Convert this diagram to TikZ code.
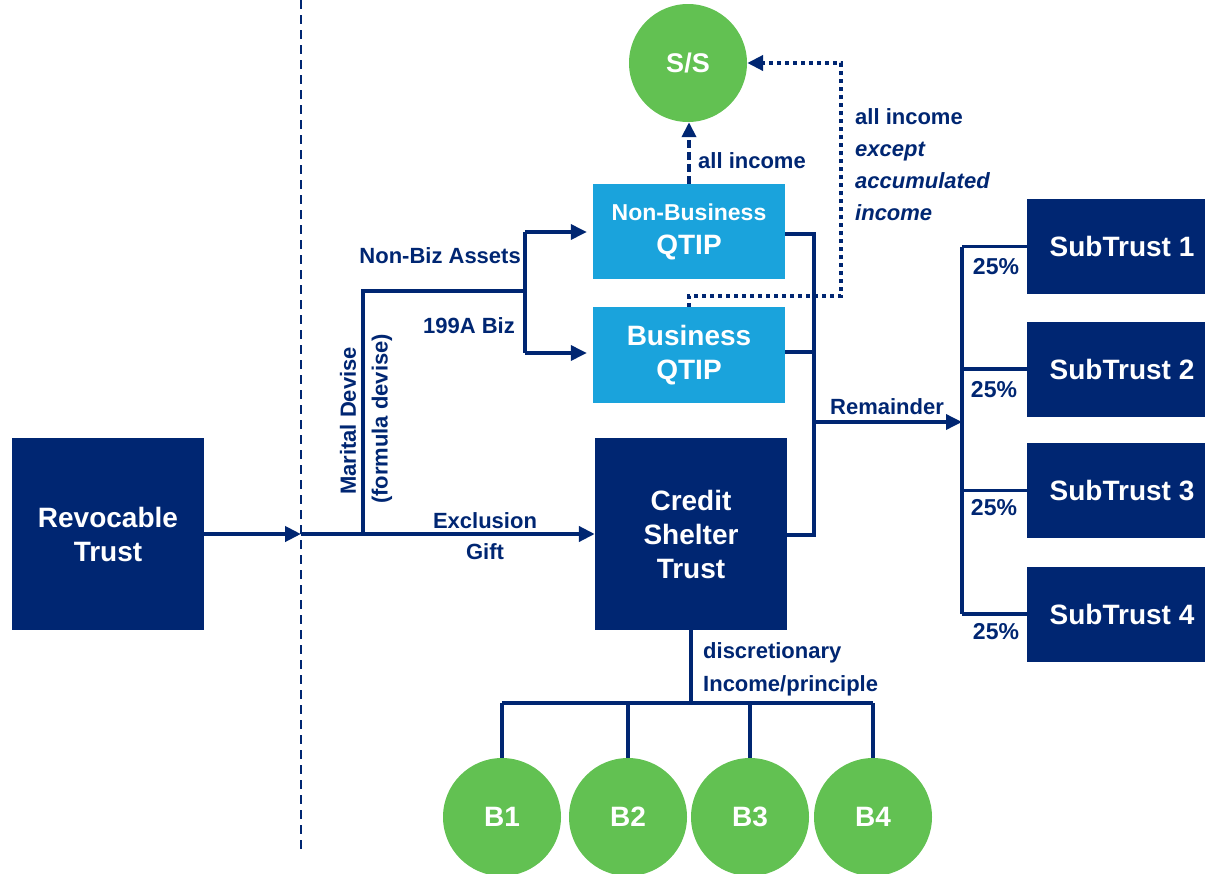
\documentclass[tikz,border=0pt]{standalone}
\usepackage{fontspec}
\setmainfont{Liberation Sans}
\usetikzlibrary{arrows.meta}
\definecolor{navy}{HTML}{002672}
\definecolor{sky}{HTML}{1AA3DC}
\definecolor{leaf}{HTML}{62C152}

\begin{document}
\begin{tikzpicture}[x=1pt,y=-1pt,
  darkbox/.style={fill=navy, text=white, inner sep=0pt, align=center,
    font=\fontsize{28}{34}\selectfont\bfseries},
  qtipbox/.style={fill=sky, text=white, inner sep=0pt, align=center,
    minimum width=192pt, minimum height=96pt,
    font=\fontsize{28}{34}\selectfont\bfseries},
  person/.style={circle, fill=leaf, text=white, inner sep=0pt,
    minimum size=118pt, font=\fontsize{28}{34}\selectfont\bfseries},
  lbl/.style={text=navy, inner sep=0pt, align=left,
    font=\fontsize{22}{32}\selectfont\bfseries},
  wire/.style={draw=navy, line width=3.5pt},
  arr/.style={wire, -{Triangle[length=16pt,width=15pt]}},
]
\useasboundingbox (0,0) rectangle (1205,873);

% ---- trusts and beneficiaries ----
\node[darkbox, minimum width=192pt, minimum height=192pt] (rev) at (108,534) {Revocable\\Trust};
\node[darkbox, minimum width=192pt, minimum height=192pt] (cst) at (691,534) {Credit\\Shelter\\Trust};
\node[qtipbox, minimum height=95pt, text depth=4pt] (nbq) at (689,231.5)
  {{\fontsize{23}{33}\selectfont Non-Business}\\QTIP};
\node[qtipbox] (bq) at (689,355) {Business\\QTIP};
\node[person, font=\fontsize{27}{34}\selectfont\bfseries] (ss) at (688,63) {S/S};

\foreach \i/\y in {1/246.5, 2/369, 3/490.5, 4/614}
  \node[darkbox, minimum width=190pt, minimum height=95pt] (st\i) at (1122,\y) {SubTrust \i};

\foreach \i/\x in {1/502, 2/628, 3/750, 4/873}
  \node[person] (b\i) at (\x,817) {B\i};

% ---- junction points ----
\coordinate (sep) at (301,534);
\coordinate (md)  at (363,534);
\coordinate (mdtop) at (363,291);
\coordinate (fork) at (525,291);
\coordinate (fork1) at (525,232);
\coordinate (fork2) at (525,353);
\coordinate (rtop) at (814,234);
\coordinate (rmid) at (814,352);
\coordinate (rrem) at (814,422);
\coordinate (rbot) at (814,535);
\coordinate (stj) at (962,422);
\coordinate (stjt) at (962,246.5);
\coordinate (stjb) at (962,614);
\coordinate (bj) at (693,703);
\coordinate (bl) at (502,703);
\coordinate (br) at (873,703);
\coordinate (dtop) at (841,63);
\coordinate (dturn) at (841,296);
\coordinate (dleft) at (689,296);

% ---- separator ----
\draw[navy, line width=2pt, dash pattern=on 9pt off 6pt] (301,0) -- (301,850);

% ---- connectors ----
\draw[arr, line width=4pt] (rev.east |- sep) -- (sep);
\draw[arr, line width=4pt] (sep) -- (cst.west |- sep);
\draw[wire, line join=miter] (md) -- (mdtop) -- (fork);
\draw[wire] (fork1) -- (fork2);
\draw[arr, shorten >=6pt] (fork1) -- (nbq.west |- fork1);
\draw[arr, shorten >=6pt] (fork2) -- (bq.west |- fork2);

\draw[wire, line join=miter] (nbq.east |- rtop) -- (rtop) -- (rbot) -- (cst.east |- rbot);
\draw[wire] (bq.east |- rmid) -- (rmid);
\draw[arr] (rrem) -- (stj);

\draw[wire] (stjt) -- (stjb);
\foreach \i in {1,2,3,4}
  \draw[wire] (stjt |- st\i.west) -- (st\i.west);

\draw[wire, line width=4.5pt] (cst.south) -- (cst.south |- bj);
\draw[wire, line width=4.5pt] (bl) -- (br);
\foreach \i in {1,2,3,4}
  \draw[wire, line width=4.5pt] (b\i.north |- bj) -- (b\i.north);

\draw[navy, line width=4pt, dash pattern=on 8pt off 4pt,
  -{Triangle[length=15pt,width=14pt]}] (nbq.north) -- (nbq.north |- ss.south);
\draw[navy, line width=4pt, dash pattern=on 4pt off 4pt,
  -{Triangle[length=16pt,width=15pt]}] (bq.north) -- (dleft) -- (dturn) -- (dtop) -- (ss.east);

% ---- labels ----
\node[lbl, anchor=east] (lnb) at (521,256) {Non-Biz Assets};
\node[lbl, anchor=east] (lbz) at (515,326) {199A Biz};
\node[lbl, align=center, font=\fontsize{22}{31}\selectfont\bfseries] (lex) at (485,536) {Exclusion\\Gift};
\node[lbl, rotate=90] (lmd) at (348,421) {Marital Devise};
\node[lbl, rotate=90] (lfd) at (382,419) {(formula devise)};
\node[lbl, anchor=west] (lai) at (698,161) {all income};
\node[lbl, anchor=west] (lae) at (855,165)
  {all income\\\textit{except}\\\textit{accumulated}\\\textit{income}};
\node[lbl] (lrem) at (887,407) {Remainder};
\node[lbl, font=\fontsize{23}{32}\selectfont\bfseries] (p1) at (996,267) {25\%};
\node[lbl, font=\fontsize{23}{32}\selectfont\bfseries] (p2) at (994,390) {25\%};
\node[lbl, font=\fontsize{23}{32}\selectfont\bfseries] (p3) at (994,508) {25\%};
\node[lbl, font=\fontsize{23}{32}\selectfont\bfseries] (p4) at (996,632) {25\%};
\node[lbl, anchor=west, font=\fontsize{22}{33}\selectfont\bfseries] (ldi) at (703,669.5)
  {discretionary\\Income/principle};
\end{tikzpicture}
\end{document}
